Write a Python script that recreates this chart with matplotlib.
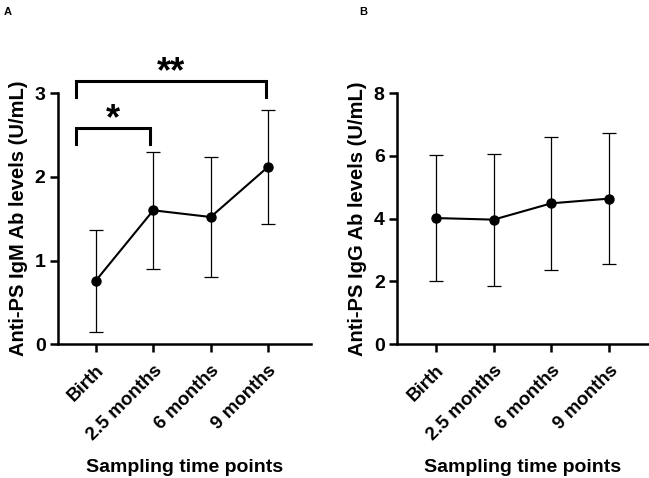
import matplotlib
matplotlib.use("Agg")
import matplotlib.pyplot as plt

plt.rcParams["font.family"] = ["Liberation Sans", "DejaVu Sans"]
plt.rcParams["font.weight"] = "bold"

timepoints = ["Birth", "2.5 months", "6 months", "9 months"]

igm_mean = [0.76, 1.60, 1.52, 2.12]
igm_err = [0.61, 0.70, 0.72, 0.68]

igg_mean = [4.02, 3.97, 4.49, 4.64]
igg_err = [2.00, 2.10, 2.11, 2.10]

# significance brackets on panel A: (left x, right x, bar y, tick bottom y, label)
sig_x0 = [-0.34, -0.34]
sig_x1 = [0.94, 2.97]
sig_y = [2.58, 3.15]
sig_drop = [2.39, 2.96]
sig_text = ["*", "**"]


def style_axis(ax, ymax, yticks, ylabel, xlim):
    x = range(len(timepoints))
    ax.set_xlim(*xlim)
    ax.set_ylim(0, ymax)
    ax.set_yticks(yticks)
    ax.set_xticks(list(x))
    ax.set_xticklabels(timepoints, rotation=45, ha="right", rotation_mode="anchor",
                       fontsize=13.5, fontweight="bold")
    for lab in ax.get_yticklabels():
        lab.set_fontsize(14)
        lab.set_fontweight("bold")
    ax.spines["top"].set_visible(False)
    ax.spines["right"].set_visible(False)
    ax.spines["left"].set_linewidth(1.8)
    ax.spines["bottom"].set_linewidth(1.8)
    ax.tick_params(width=1.8, length=6)
    ax.tick_params(axis="x", pad=7)
    ax.tick_params(axis="y", pad=3)
    ax.set_ylabel(ylabel, fontsize=14.5, fontweight="bold", labelpad=5)
    ax.set_xlabel("Sampling time points", fontsize=14, fontweight="bold", labelpad=11)


fig = plt.figure(figsize=(6.49, 4.78), dpi=100)
ax1 = fig.add_axes([0.0894, 0.280, 0.390, 0.525])
ax2 = fig.add_axes([0.612, 0.280, 0.387, 0.525])

x = list(range(len(timepoints)))
for ax, mean, err in [(ax1, igm_mean, igm_err), (ax2, igg_mean, igg_err)]:
    ax.errorbar(x, mean, yerr=err, color="black", lw=1.5, elinewidth=0.9,
                capsize=5, capthick=0.9, marker="o", markersize=6.5, zorder=3)

style_axis(ax1, 3, [0, 1, 2, 3], "Anti-PS IgM Ab levels (U/mL)", (-0.66, 3.75))
style_axis(ax2, 8, [0, 2, 4, 6, 8], "Anti-PS IgG Ab levels (U/mL)", (-0.67, 3.68))

for x0, x1, y, yd, t in zip(sig_x0, sig_x1, sig_y, sig_drop, sig_text):
    ax1.plot([x0, x0, x1, x1], [yd, y, y, yd], color="black", lw=2.2,
             clip_on=False, solid_joinstyle="miter")
    ax1.text((x0 + x1) / 2, y - 0.015, t, ha="center", va="baseline",
             fontsize=26, fontweight="bold")

fig.text(0.006, 0.985, "A", fontsize=8, fontweight="bold", va="top")
fig.text(0.553, 0.985, "B", fontsize=8, fontweight="bold", va="top")

fig.savefig("out.png", dpi=100)
